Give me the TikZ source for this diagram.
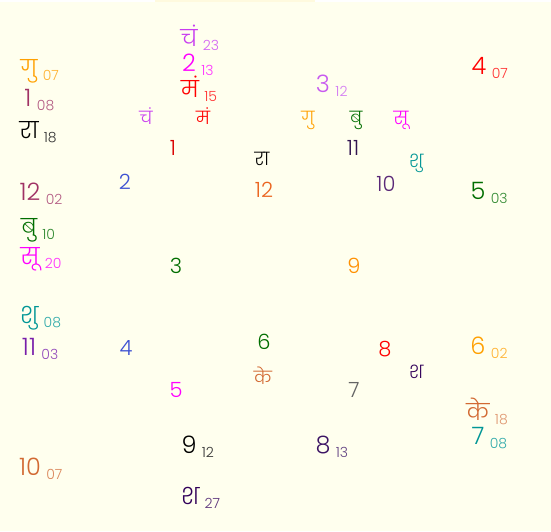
\documentclass[tikz,border=0pt]{standalone}
\usepackage{fontspec}
\setmainfont[Script=Devanagari]{Poppins Light}
\usetikzlibrary{positioning}

\definecolor{ivorybg}{RGB}{255,255,238}
\definecolor{topstrip}{RGB}{255,250,222}
\definecolor{chcol}{RGB}{200,60,240}
\definecolor{macol}{RGB}{255,0,0}
\definecolor{gucol}{RGB}{255,160,0}
\definecolor{bucol}{RGB}{0,110,0}
\definecolor{sucol}{RGB}{255,0,255}
\definecolor{shucol}{RGB}{0,150,150}
\definecolor{kecol}{RGB}{210,105,50}
\definecolor{shacol}{RGB}{50,0,90}
\definecolor{racol}{RGB}{0,0,0}
\definecolor{maroon}{RGB}{160,50,100}
\definecolor{plum}{RGB}{120,30,170}
\definecolor{lilac}{RGB}{200,90,240}
\definecolor{bluecol}{RGB}{60,80,210}
\definecolor{rustcol}{RGB}{235,100,30}
\definecolor{greycol}{RGB}{100,100,100}
\definecolor{darkplum}{RGB}{60,20,100}
\definecolor{inkplum}{RGB}{50,20,80}
\definecolor{midplum}{RGB}{90,40,120}

\tikzset{
  house/.style={font=\fontsize{21}{21}\selectfont, inner sep=0pt},
  graha/.style={font=\fontsize{18}{18}\selectfont, inner sep=0pt},
  big/.style={font=\fontsize{24}{24}\selectfont, inner sep=0pt},
  bigdeva/.style={font=\fontsize{23}{23}\selectfont, inner sep=0pt},
  deg/.style={font=\fontsize{14}{14}\selectfont, inner sep=0pt,
    anchor=base west, xshift=5pt, yshift=-4pt},
}

\begin{document}
\begin{tikzpicture}[x=1pt, y=-1pt]
  % Background
  \fill[white] (0,0) rectangle (551,531);
  \fill[ivorybg] (0,2) rectangle (551,531);
  \fill[topstrip] (155,0) rectangle (315,2);
  \useasboundingbox (0,0) rectangle (551,531);

  % House numbers
  \node[house, text=macol!85!black] (h1) at (173,148) {1};
  \node[house, text=bluecol] (h2) at (125,182) {2};
  \node[house, text=bucol] (h3) at (176,266) {3};
  \node[house, text=bluecol] (h4) at (126,348) {4};
  \node[house, text=sucol] (h5) at (176,390) {5};
  \node[house, text=bucol] (h6) at (264,342) {6};
  \node[house, text=greycol] (h7) at (354,390) {7};
  \node[house, text=macol] (h8) at (385,349) {8};
  \node[house, text=gucol!90!red] (h9) at (354,266) {9};
  \node[house, text=midplum] (h10) at (386,184) {10};
  \node[house, text=inkplum] (h11) at (353,148) {11};
  \node[house, text=rustcol] (h12) at (264,190) {12};

  % Planets in the chart
  \node[graha, text=chcol] (pch) at (146,116) {चं};
  \node[graha, text=macol] (pma) at (203,116) {मं};
  \node[graha, text=racol] (pra) at (262,159) {रा};
  \node[graha, text=gucol] (pgu) at (308,120) {गु};
  \node[graha, text=bucol] (pbu) at (356,120) {बु};
  \node[graha, text=sucol] (psu) at (401,120) {सू};
  \node[graha, text=shucol] (pshu) at (416,163) {शु};
  \node[graha, text=kecol] (pke) at (263,376) {के};
  \node[graha, text=shacol] (psha) at (416,372) {श};

  % Left column
  \node[bigdeva, text=gucol] (lgu) at (29,71) {गु};
  \node[deg, text=gucol!80] (lgud) at (lgu.base east) {07};
  \node[big, text=maroon] (l1) at (28,98) {1};
  \node[deg, text=maroon!80] (l1d) at (l1.base east) {08};
  \node[bigdeva, text=racol] (lra) at (29,130) {रा};
  \node[deg, text=racol!80] (lrad) at (lra.base east) {18};
  \node[big, text=maroon] (l12) at (30,192) {12};
  \node[deg, text=maroon!80] (l12d) at (l12.base east) {02};
  \node[bigdeva, text=bucol] (lbu) at (29,230) {बु};
  \node[deg, text=bucol!80] (lbud) at (lbu.base east) {10};
  \node[bigdeva, text=sucol] (lsu) at (30,259) {सू};
  \node[deg, text=sucol!80] (lsud) at (lsu.base east) {20};
  \node[bigdeva, text=shucol] (lshu) at (29,318) {शु};
  \node[deg, text=shucol!80] (lshud) at (lshu.base east) {08};
  \node[big, text=plum] (l11) at (29,347) {11};
  \node[deg, text=plum!80] (l11d) at (l11.base east) {03};
  \node[big, text=kecol] (l10) at (30,467) {10};
  \node[deg, text=kecol!80] (l10d) at (l10.base east) {07};

  % Top column
  \node[bigdeva, text=chcol] (tch) at (189,36) {चं};
  \node[deg, text=chcol!80] (tchd) at (tch.base east) {23};
  \node[big, text=sucol] (t2) at (189,63) {2};
  \node[deg, text=sucol!80] (t2d) at (t2.base east) {13};
  \node[bigdeva, text=macol] (tma) at (190,87) {मं};
  \node[deg, text=macol!80] (tmad) at (tma.base east) {15};
  \node[big, text=lilac] (t3) at (323,84) {3};
  \node[deg, text=lilac!80] (t3d) at (t3.base east) {12};

  % Right column
  \node[big, text=macol] (r4) at (479,66) {4};
  \node[deg, text=macol!80] (r4d) at (r4.base east) {07};
  \node[big, text=bucol] (r5) at (478,191) {5};
  \node[deg, text=bucol!80] (r5d) at (r5.base east) {03};
  \node[big, text=gucol] (r6) at (478,346) {6};
  \node[deg, text=gucol!80] (r6d) at (r6.base east) {02};
  \node[bigdeva, text=kecol] (rke) at (478,409) {के};
  \node[deg, text=kecol!70] (rked) at (rke.base east) {18};
  \node[big, text=shucol] (r7) at (478,436) {7};
  \node[deg, text=shucol!80] (r7d) at (r7.base east) {08};

  % Bottom column
  \node[big, text=racol] (b9) at (189,445) {9};
  \node[deg, text=racol!80] (b9d) at (b9.base east) {12};
  \node[big, text=darkplum] (b8) at (323,445) {8};
  \node[deg, text=darkplum!80] (b8d) at (b8.base east) {13};
  \node[bigdeva, text=shacol] (bsha) at (190,496) {श};
  \node[deg, text=shacol!80] (bshad) at (bsha.base east) {27};
\end{tikzpicture}
\end{document}
